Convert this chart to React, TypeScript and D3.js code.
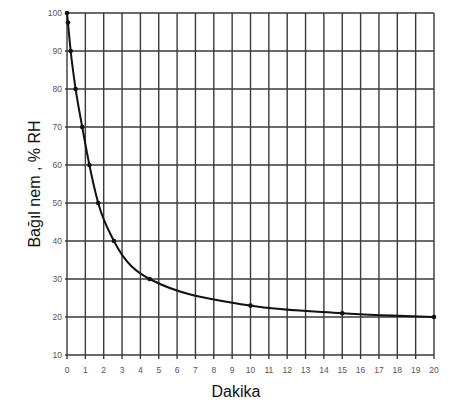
import React from "react";
import * as d3 from "d3";

const minutes = [0, 0.05, 0.2, 0.47, 0.83, 1.22, 1.7, 2.56, 4.5, 10, 15, 20];
const humidity = [100, 97.5, 90, 80, 70, 60, 50, 40, 30, 23, 21, 20];
const xTicks = d3.range(0, 21);
const yTicks = d3.range(10, 101, 10);

const W = 456;
const H = 403;

export default function App() {
  const x = d3.scaleLinear().domain([0, 20]).range([67, 434]);
  const y = d3.scaleLinear().domain([10, 100]).range([355, 13]);
  const data = minutes.map((m, i) => [m, humidity[i]] as [number, number]);
  const line = d3
    .line<[number, number]>()
    .x((d) => x(d[0]))
    .y((d) => y(d[1]))
    .curve(d3.curveMonotoneX);
  const grid = "#3a3a3a";
  return (
    <svg
      width={W}
      height={H}
      style={{ position: "absolute", left: 0, top: 0, background: "#fff" }}
      fontFamily="Arial, Liberation Sans, sans-serif"
    >
      <rect width={W} height={H} fill="#fff" />
      {yTicks.map((t) => (
        <g key={"y" + t}>
          <line x1={x(0) - 2} x2={x(20)} y1={y(t)} y2={y(t)} stroke={grid} strokeWidth={1.4} />
          <text x={x(0) - 5} y={y(t)} dy="0.35em" textAnchor="end" fontSize={8.5} fill="#555">
            {t}
          </text>
        </g>
      ))}
      {xTicks.map((t) => (
        <g key={"x" + t}>
          <line x1={x(t)} x2={x(t)} y1={y(100)} y2={y(10) + 4} stroke={grid} strokeWidth={1.4} />
          <text x={x(t)} y={373} textAnchor="middle" fontSize={8.5} fill="#555">
            {t}
          </text>
        </g>
      ))}
      <path d={line(data) || ""} fill="none" stroke="#111" strokeWidth={2} />
      {data.map((d, i) => (
        <circle key={i} cx={x(d[0])} cy={y(d[1])} r={2.3} fill="#111" />
      ))}
      <text x={236} y={397} textAnchor="middle" fontSize={16} fill="#111">
        Dakika
      </text>
      <text
        transform={`translate(40,184) rotate(-90)`}
        textAnchor="middle"
        fontSize={16}
        fill="#111"
      >
        Bağıl nem , % RH
      </text>
    </svg>
  );
}
